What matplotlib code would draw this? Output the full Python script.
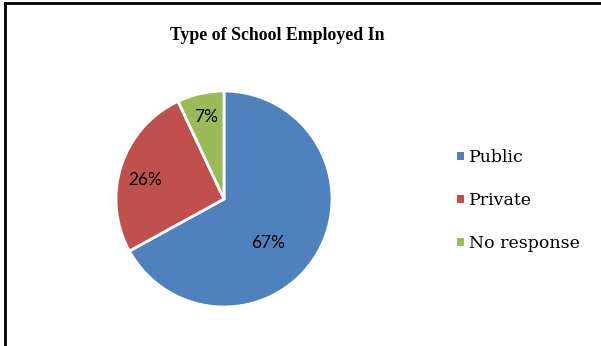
import matplotlib
matplotlib.use("Agg")
import matplotlib.pyplot as plt
from matplotlib.lines import Line2D
from matplotlib.patches import Patch

# data
categories = ["Public", "Private", "No response"]
shares = [67, 26, 7]
colors = ["#4f81bd", "#c0504d", "#9bbb59"]

# label spots inside each slice (fraction of radius), like Excel's best fit
label_pos = [(0.41, -0.41), (-0.73, 0.18), (-0.17, 0.76)]

fig = plt.figure(figsize=(6.01, 3.46), dpi=100)
ax = fig.add_axes([0.193, 0.1127, 0.3594, 0.6243])

wedges, texts, autotexts = ax.pie(
    shares, colors=colors, startangle=90, counterclock=False,
    autopct="%d%%", radius=1,
    wedgeprops=dict(edgecolor="white", linewidth=2),
    textprops=dict(family="Lato", fontsize=12.5, color="black"))
for t, p in zip(autotexts, label_pos):
    t.set_position(p)
ax.set_xlim(-1, 1)
ax.set_ylim(-1, 1)
ax.set_aspect("equal")

fig.text(0.461, 0.897, "Type of School Employed In", ha="center", va="center",
         family="Liberation Serif", fontweight="bold", fontsize=12.8)

handles = [Patch(facecolor=c, edgecolor="none") for c in colors]
fig.legend(handles, categories, loc="center left", bbox_to_anchor=(0.734, 0.42),
           frameon=False, handlelength=0.4, handleheight=0.4, handletextpad=0.3,
           labelspacing=1.5, prop=dict(family="DejaVu Serif", size=12.5))

# outer border (only top and left show in the crop)
fig.add_artist(Line2D([0.008, 0.008], [0, 0.992], transform=fig.transFigure,
                      color="black", linewidth=2))
fig.add_artist(Line2D([0.008, 1], [0.992, 0.992], transform=fig.transFigure,
                      color="black", linewidth=2))

fig.savefig("out.png", dpi=100)
